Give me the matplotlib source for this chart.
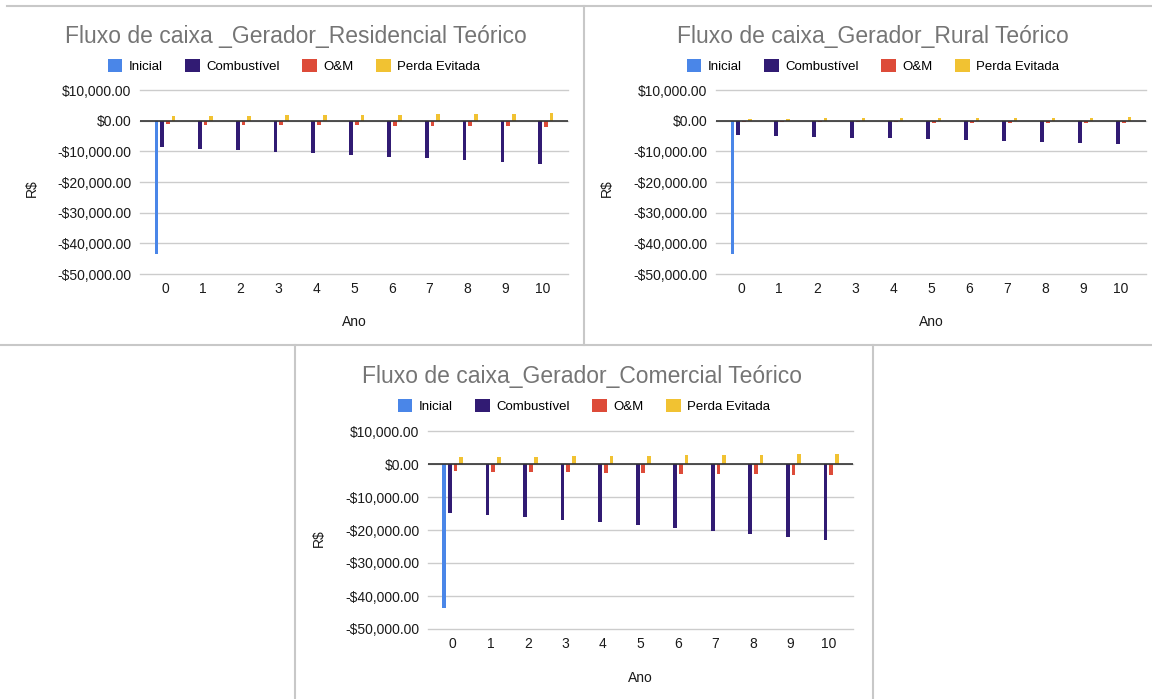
import numpy as np
import matplotlib
matplotlib.use("Agg")
import matplotlib.pyplot as plt
from matplotlib.lines import Line2D
from matplotlib.ticker import FuncFormatter

plt.rcParams['font.family'] = ['Liberation Sans', 'DejaVu Sans']

anos = [0, 1, 2, 3, 4, 5, 6, 7, 8, 9, 10]
series = ["Inicial", "Combustível", "O&M", "Perda Evitada"]
cores = ["#4a86e8", "#311b73", "#dd4b39", "#f1c232"]

# Residencial
res_inicial = [-43500, 0, 0, 0, 0, 0, 0, 0, 0, 0, 0]
res_combustivel = [-8700, -9150, -9600, -10100, -10600, -11100, -11700, -12250, -12850, -13500, -14150]
res_om = [-1200, -1260, -1320, -1390, -1460, -1530, -1610, -1690, -1770, -1860, -1950]
res_perda = [1500, 1580, 1650, 1740, 1820, 1910, 2010, 2110, 2210, 2320, 2440]

# Rural
rur_inicial = [-43500, 0, 0, 0, 0, 0, 0, 0, 0, 0, 0]
rur_combustivel = [-4800, -5050, -5300, -5550, -5800, -6100, -6400, -6700, -7000, -7350, -7700]
rur_om = [-450, -480, -510, -540, -570, -600, -640, -680, -720, -760, -800]
rur_perda = [650, 680, 720, 750, 790, 830, 870, 910, 960, 1000, 1050]

# Comercial
com_inicial = [-43500, 0, 0, 0, 0, 0, 0, 0, 0, 0, 0]
com_combustivel = [-14700, -15400, -16100, -16900, -17600, -18500, -19300, -20300, -21300, -22200, -22900]
com_om = [-2200, -2300, -2450, -2550, -2650, -2800, -2900, -3050, -3150, -3300, -3450]
com_perda = [2000, 2100, 2200, 2300, 2400, 2500, 2650, 2750, 2850, 3000, 3100]

yticks = [10000, 0, -10000, -20000, -30000, -40000, -50000]

W, H = 1152, 699
fig = plt.figure(figsize=(W / 100, H / 100), dpi=100, facecolor="white")


def fx(x):
    return x / W


def fy(y):
    return 1 - y / H


def money(v, pos=None):
    if v < 0:
        return f"-${-v:,.2f}"
    return f"${v:,.2f}"


def chart(box, titulo, title_xy, legend_xy, ano_xy, rs_xy, valores):
    left, top, right, bottom = box
    ax = fig.add_axes([fx(left), fy(bottom), fx(right - left), (bottom - top) / H])
    x = np.array(anos)
    offsets = [-0.225, -0.075, 0.075, 0.225]
    for i, vals in enumerate(valores):
        ax.bar(x + offsets[i], vals, width=0.1, color=cores[i], label=series[i], zorder=3)
    ax.set_ylim(-50000, 10000)
    ax.set_xlim(-0.66, 10.66)
    ax.set_yticks(yticks)
    ax.yaxis.set_major_formatter(FuncFormatter(money))
    ax.set_xticks(anos)
    ax.set_xticklabels([str(a) for a in anos])
    ax.tick_params(length=0, labelsize=10, colors="#1a1a1a")
    ax.tick_params(axis="x", pad=6)
    ax.tick_params(axis="y", pad=6)
    ax.grid(axis="y", color="#cccccc", linewidth=1, zorder=0)
    for gl in ax.get_ygridlines():
        gl.set_clip_on(False)
    ax.axhline(0, color="#333333", linewidth=1.2, zorder=4)
    for s in ax.spines.values():
        s.set_visible(False)
    fig.text(fx(title_xy[0]), fy(title_xy[1]), titulo, ha="center", va="center",
             fontsize=16.5, color="#757575")
    ax.legend(loc="center", bbox_to_anchor=(fx(legend_xy[0]), fy(legend_xy[1])),
              bbox_transform=fig.transFigure, ncol=4, frameon=False, fontsize=9.5,
              handlelength=1.1, handleheight=1.1, handletextpad=0.5, columnspacing=1.7)
    fig.text(fx(ano_xy[0]), fy(ano_xy[1]), "Ano", ha="center", va="center", fontsize=10, color="#1a1a1a")
    fig.text(fx(rs_xy[0]), fy(rs_xy[1]), "R$", ha="center", va="center", rotation=90,
             fontsize=10, color="#1a1a1a")
    return ax


chart((140, 90, 568, 274), "Fluxo de caixa _Gerador_Residencial Teórico", (296, 36), (294, 66),
      (354, 322), (32, 188), [res_inicial, res_combustivel, res_om, res_perda])
chart((716, 90, 1146, 274), "Fluxo de caixa_Gerador_Rural Teórico", (873, 36), (873, 66),
      (931, 322), (607, 188), [rur_inicial, rur_combustivel, rur_om, rur_perda])
chart((428, 431, 853, 629), "Fluxo de caixa_Gerador_Comercial Teórico", (582, 376), (584, 406),
      (640, 678), (319, 538), [com_inicial, com_combustivel, com_om, com_perda])

# moldura das capturas
borda = "#c8c8c8"
fig.add_artist(Line2D([fx(7), fx(1152)], [fy(6), fy(6)], color=borda, linewidth=1.5))
fig.add_artist(Line2D([fx(584), fx(584)], [fy(6), fy(345)], color=borda, linewidth=1.5))
fig.add_artist(Line2D([0, 1], [fy(345.5), fy(345.5)], color=borda, linewidth=1.5))
fig.add_artist(Line2D([fx(294.5), fx(294.5)], [fy(345.5), 0], color=borda, linewidth=1.5))
fig.add_artist(Line2D([fx(872.5), fx(872.5)], [fy(345.5), 0], color=borda, linewidth=1.5))

fig.savefig("out.png", dpi=100, facecolor="white")
